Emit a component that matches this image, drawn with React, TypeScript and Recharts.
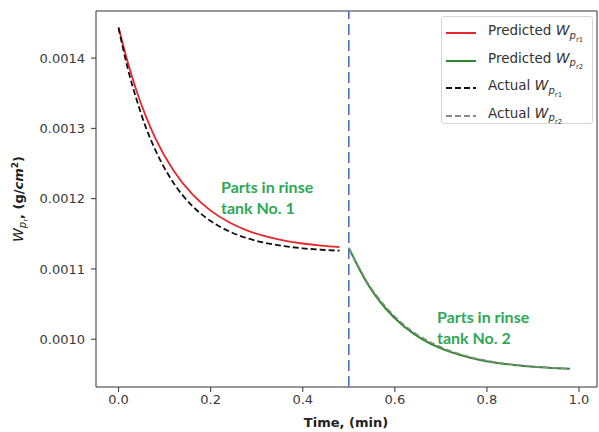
import React from 'react'
import { LineChart, Line, XAxis, YAxis, ReferenceLine, ReferenceArea } from 'recharts'

/* ── rinse tank residue chart ─────────────────────────
 *  predicted vs actual W_pr over time, two rinse tanks
 * ──────────────────────────────────────────────────── */

const tank1Time = [0, 0.02, 0.04, 0.06, 0.08, 0.12, 0.16, 0.2, 0.24, 0.28, 0.32, 0.36, 0.4, 0.44, 0.48]
const predicted1 = [0.001444, 0.001394, 0.0013515, 0.001316, 0.0012858, 0.0012393, 0.0012063, 0.001183, 0.0011664, 0.0011546, 0.0011463, 0.0011404, 0.0011362, 0.0011332, 0.0011311]
const actual1 = [0.001443, 0.001385, 0.0013392, 0.0013, 0.0012691, 0.0012217, 0.0011897, 0.0011681, 0.0011535, 0.0011436, 0.0011369, 0.0011324, 0.0011293, 0.0011273, 0.0011259]

const tank2Time = [0.5, 0.52, 0.54, 0.58, 0.62, 0.66, 0.7, 0.74, 0.78, 0.82, 0.86, 0.9, 0.94, 0.98]
const predicted2 = [0.00113, 0.0011035, 0.0010796, 0.0010437, 0.0010181, 0.0009999, 0.000987, 0.0009778, 0.0009712, 0.0009665, 0.0009632, 0.0009608, 0.0009592, 0.000958]
const actual2 = [0.00113, 0.001105, 0.0010815, 0.0010465, 0.0010205, 0.001002, 0.0009888, 0.0009792, 0.0009722, 0.0009672, 0.0009637, 0.0009612, 0.0009594, 0.0009582]

const xTicks = [0, 0.2, 0.4, 0.6, 0.8, 1.0]
const yTicks = [0.001, 0.0011, 0.0012, 0.0013, 0.0014]
const xDomain: [number, number] = [-0.049, 1.039]
const yDomain: [number, number] = [0.000932, 0.001467]
const tankSwitch = 0.5

const legendItems = [
  { label: 'Predicted', sub: 'r1', color: '#e8262b', dash: '' },
  { label: 'Predicted', sub: 'r2', color: '#2a8a2a', dash: '' },
  { label: 'Actual', sub: 'r1', color: '#111', dash: '6 3' },
  { label: 'Actual', sub: 'r2', color: '#8a8a8a', dash: '6 3' },
]

const zip = (ts: number[], vs: number[]) => ts.map((t, i) => ({ t, v: vs[i] }))

const tickFont = { fontFamily: 'DejaVu Sans', fontSize: 13, fill: '#3a3a3a' }
const noteStyle = { fontFamily: 'Lato', fontWeight: 700, fontSize: 16, fill: '#2ea857' }

function Legend() {
  return (
    <div
      style={{
        position: 'absolute', left: 441, top: 16, width: 152, height: 108,
        border: '1px solid #d6d6d6', borderRadius: 3, background: '#fff',
        fontFamily: 'DejaVu Sans', fontSize: 13.5, color: '#333', boxSizing: 'border-box',
      }}
    >
      {legendItems.map((it, i) => (
        <div key={i} style={{ position: 'absolute', left: 3, top: 5 + i * 27.5, height: 22, display: 'flex', alignItems: 'center' }}>
          <svg width={32} height={6}>
            <line x1={1} y1={3} x2={31} y2={3} stroke={it.color} strokeWidth={2} strokeDasharray={it.dash} />
          </svg>
          <span style={{ marginLeft: 11, whiteSpace: 'nowrap' }}>
            {it.label} <i style={{ fontSize: 14 }}>W</i>
            <sub style={{ fontSize: 10, fontStyle: 'italic' }}>
              p<sub style={{ fontSize: 7, fontStyle: 'normal' }}>{it.sub}</sub>
            </sub>
          </span>
        </div>
      ))}
    </div>
  )
}

export default function App() {
  return (
    <div style={{ position: 'absolute', left: 0, top: 0, width: 599, height: 432, background: '#fff' }}>
      <LineChart width={599} height={432} margin={{ top: 11, right: 2, bottom: 0, left: 0 }}>
        <XAxis
          dataKey="t" type="number" domain={xDomain} ticks={xTicks} allowDataOverflow
          tickFormatter={(v: number) => v.toFixed(1)} tick={tickFont}
          axisLine={false} tickLine={{ stroke: '#333' }} tickSize={5} tickMargin={3} height={45}
        />
        <YAxis
          type="number" domain={yDomain} ticks={yTicks} allowDataOverflow
          tickFormatter={(v: number) => v.toFixed(4)} tick={tickFont}
          axisLine={false} tickLine={{ stroke: '#333' }} tickSize={5} tickMargin={6} width={96}
        />
        <ReferenceArea
          x1={xDomain[0]} x2={xDomain[1]} y1={yDomain[0]} y2={yDomain[1]}
          fill="none" fillOpacity={0} stroke="#333" strokeWidth={1} ifOverflow="visible"
        />
        <ReferenceLine x={tankSwitch} stroke="#4a72c0" strokeWidth={1.6} strokeDasharray="11 5" />
        <Line data={zip(tank1Time, predicted1)} dataKey="v" type="monotone" stroke="#e8262b" strokeWidth={1.8} dot={false} isAnimationActive={false} />
        <Line data={zip(tank1Time, actual1)} dataKey="v" type="monotone" stroke="#111" strokeWidth={1.8} strokeDasharray="6 3" dot={false} isAnimationActive={false} />
        <Line data={zip(tank2Time, predicted2)} dataKey="v" type="monotone" stroke="#2a8a2a" strokeWidth={2} dot={false} isAnimationActive={false} />
        <Line data={zip(tank2Time, actual2)} dataKey="v" type="monotone" stroke="#8a8a8a" strokeWidth={1.6} strokeDasharray="6 3" dot={false} isAnimationActive={false} />
      </LineChart>

      <svg width={599} height={432} style={{ position: 'absolute', left: 0, top: 0, pointerEvents: 'none' }}>
        <text x={221} y={193} style={noteStyle}>Parts in rinse</text>
        <text x={221} y={214} style={noteStyle}>tank No. 1</text>
        <text x={437} y={323} style={noteStyle}>Parts in rinse</text>
        <text x={437} y={344} style={noteStyle}>tank No. 2</text>

        <text x={346} y={427} textAnchor="middle" fontFamily="DejaVu Sans" fontWeight={700} fontSize={13} fill="#222">
          Time, (min)
        </text>

        <text transform="rotate(-90 23 199)" x={23} y={199} textAnchor="middle" fontFamily="DejaVu Sans" fontSize={13} fill="#222">
          <tspan fontStyle="italic" fontSize={14}>W</tspan>
          <tspan fontStyle="italic" fontSize={10} dy={3}>p</tspan>
          <tspan fontSize={7} dy={2}>r</tspan>
          <tspan fontWeight={700} dy={-5}>, (g/</tspan>
          <tspan fontStyle="italic" fontWeight={700}>cm</tspan>
          <tspan fontSize={9} dy={-5} fontWeight={700}>2</tspan>
          <tspan fontWeight={700} dy={5}>)</tspan>
        </text>
      </svg>

      <Legend />
    </div>
  )
}
